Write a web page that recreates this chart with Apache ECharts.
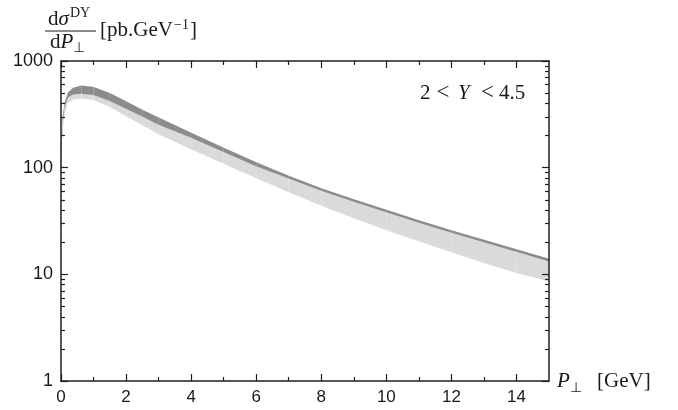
<!DOCTYPE html>
<html><head><meta charset="utf-8">
<script src="https://cdn.jsdelivr.net/npm/echarts@6/dist/echarts.min.js"></script>
<style>html,body{margin:0;padding:0;background:#fff}#c{width:678px;height:410px}</style>
</head><body><div id="c"></div>
<script>
// ---- data ----
const pT = [0.004, 0.01, 0.05, 0.11, 0.21, 0.37, 0.63, 1, 1.5, 2, 2.5, 3, 4, 5, 6, 7, 8, 9, 10, 11, 12, 13, 14, 15];
const bandTop = [90, 148, 295, 405, 503, 560, 589, 570, 501, 419, 350, 295, 213, 154, 112.6, 84.1, 64.2, 50.6, 40.3, 32.1, 25.9, 21.1, 17.2, 14.0];
const darkBottom = [80, 124, 259, 366, 454, 485, 492, 480, 421, 356, 301, 253, 191, 140, 103, 79.2, 60.8, 48.0, 38.2, 30.4, 24.5, 20.0, 16.3, 13.2];
const lightBottom = [70, 107, 227, 315, 408, 435, 445, 430, 370, 303, 250, 206, 149, 109, 79.7, 58.9, 44.0, 33.6, 25.9, 20.4, 16.1, 12.8, 10.3, 8.6];
const xMajorTicks = [0, 2, 4, 6, 8, 10, 12, 14];
const xTickLabels = ['0', '2', '4', '6', '8', '10', '12', '14'];
const xMinorTicks = [1, 3, 5, 7, 9, 11, 13];
const yMajorTicks = [1, 10, 100, 1000];
const yTickLabels = ['1', '10', '100', '1000'];
const yMinorTicks = [2, 3, 4, 5, 6, 7, 8, 9, 20, 30, 40, 50, 60, 70, 80, 90, 200, 300, 400, 500, 600, 700, 800, 900];
const rangeLabel = ['2', '<', 'Y', '<', '4.5'];

const AX = '#1f1f1f';
const SANS = '"Liberation Sans", Arial, sans-serif';
const SERIF = '"Liberation Serif", "Times New Roman", serif';
const LIGHT = '#d9dadc';
const DARK = '#8c8c8c';

function segments(lo, hi) {
  const out = [];
  for (let i = 0; i < pT.length - 1; i++) out.push([pT[i], pT[i + 1], lo[i], hi[i], lo[i + 1], hi[i + 1]]);
  return out;
}
function renderBand(color) {
  return function (params, api) {
    const x0 = api.value(0), x1 = api.value(1);
    const a = api.coord([x0, api.value(3)]);
    const b = api.coord([x1, api.value(5)]);
    const c = api.coord([x1, api.value(4)]);
    const d = api.coord([x0, api.value(2)]);
    return { type: 'polygon', shape: { points: [a, b, c, d] }, style: { fill: color } };
  };
}
function xAx(pos, ticks, len, main) {
  return {
    type: 'value', position: pos, min: 0, max: 15, z: 10,
    axisLine: { show: main, onZero: false, lineStyle: { color: AX, width: 1.5 } },
    axisTick: { show: true, inside: true, length: len, customValues: ticks, lineStyle: { color: AX, width: 1.2 } },
    axisLabel: (main && pos === 'bottom') ? {
      show: true, customValues: xMajorTicks, margin: 8, fontSize: 17, fontFamily: SANS, color: '#1a1a1a',
      formatter: function (v) { return xTickLabels[xMajorTicks.indexOf(v)]; }
    } : { show: false },
    splitLine: { show: false }
  };
}
function yAx(pos, ticks, len, main) {
  return {
    type: 'log', logBase: 10, position: pos, min: 1, max: 1000, z: 10,
    axisLine: { show: main, onZero: false, lineStyle: { color: AX, width: 1.5 } },
    axisTick: { show: true, inside: true, length: len, customValues: ticks, lineStyle: { color: AX, width: 1.2 } },
    axisLabel: (main && pos === 'left') ? {
      show: true, customValues: yMajorTicks, margin: 8, fontSize: 18, fontFamily: SANS, color: '#1a1a1a',
      formatter: function (v) { const i = yMajorTicks.indexOf(Math.round(v)); return i >= 0 ? yTickLabels[i] : ''; }
    } : { show: false },
    splitLine: { show: false }
  };
}
function txt(t, x, baseline, size, italic) {
  return {
    type: 'text', x: x, y: baseline - 0.34 * size, silent: true,
    style: {
      text: t, font: (italic ? 'italic ' : '') + size + 'px ' + SERIF, fill: '#1a1a1a',
      textAlign: 'left', align: 'left', textVerticalAlign: 'middle', verticalAlign: 'middle'
    }
  };
}

const chart = echarts.init(document.getElementById('c'), null, { renderer: 'canvas' });
chart.setOption({
  animation: false,
  backgroundColor: '#ffffff',
  grid: { left: 61, right: 129, top: 61, bottom: 29, containLabel: false },
  xAxis: [xAx('bottom', xMajorTicks, 7, true), xAx('bottom', xMinorTicks, 4, false),
          xAx('top', xMajorTicks, 7, true), xAx('top', xMinorTicks, 4, false)],
  yAxis: [yAx('left', yMajorTicks, 7, true), yAx('left', yMinorTicks, 4, false),
          yAx('right', yMajorTicks, 7, true), yAx('right', yMinorTicks, 4, false)],
  series: [
    { type: 'custom', xAxisIndex: 0, yAxisIndex: 0, silent: true, clip: true, z: 2,
      renderItem: renderBand(LIGHT), encode: { x: [0, 1], y: [2, 3, 4, 5] },
      data: segments(lightBottom, bandTop) },
    { type: 'custom', xAxisIndex: 0, yAxisIndex: 0, silent: true, clip: true, z: 3,
      renderItem: renderBand(DARK), encode: { x: [0, 1], y: [2, 3, 4, 5] },
      data: segments(darkBottom, bandTop) }
  ],
  graphic: [
    // y-axis title: dσ^DY / dP⊥ [pb.GeV^-1]
    txt('d', 48, 26.5, 21, false),
    txt('σ', 58.5, 26.5, 21, true),
    txt('DY', 70, 18.5, 14, false),
    { type: 'line', silent: true, shape: { x1: 45, y1: 31, x2: 96, y2: 31 }, style: { stroke: '#1a1a1a', lineWidth: 1 } },
    txt('d', 50, 49.3, 21, false),
    txt('P', 60.5, 49.3, 21, true),
    txt('⊥', 73, 53, 14, false),
    txt('[pb.GeV', 100, 37.5, 21, false),
    txt('−1', 174, 30.5, 14, false),
    txt(']', 190, 37.5, 21, false),
    // range label
    txt(rangeLabel[0], 420, 101, 21, false),
    txt(rangeLabel[1], 436.5, 101, 23, false),
    txt(rangeLabel[2], 458, 101, 21, true),
    txt(rangeLabel[3], 481, 101, 23, false),
    txt(rangeLabel[4], 499, 101, 21, false),
    // x-axis title
    txt('P', 557, 389, 21, true),
    txt('⊥', 570, 393, 14, false),
    txt('[GeV]', 597, 389, 21, false)
  ]
});
</script></body></html>
